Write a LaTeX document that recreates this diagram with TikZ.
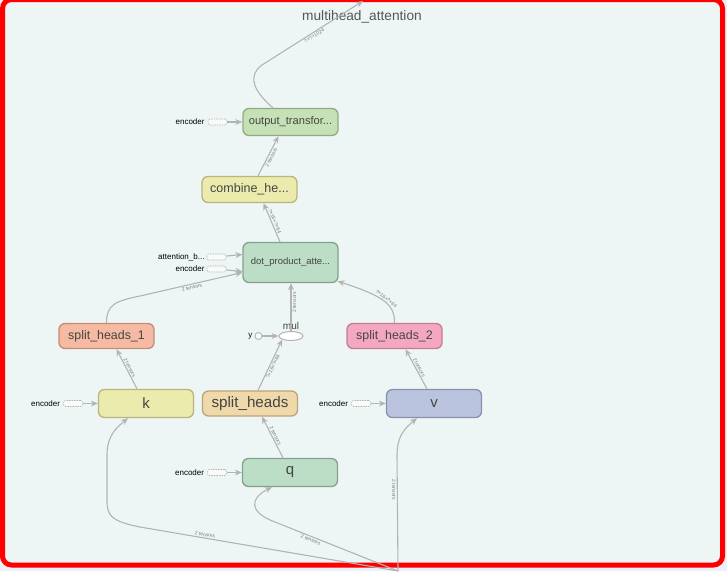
\documentclass[tikz,border=0pt]{standalone}
\usepackage{fontspec}
\setmainfont{Liberation Sans}
\setsansfont{Liberation Sans}
\usetikzlibrary{arrows.meta,positioning,shapes.geometric}
\definecolor{tbInk}{HTML}{454545}
\definecolor{tbTitle}{HTML}{555555}
\definecolor{tbEdge}{HTML}{B3B3B3}
\definecolor{tbTag}{HTML}{7A7A7A}
\definecolor{tbPanel}{HTML}{EEF6F5}
\definecolor{tbOuter}{HTML}{ECF0F7}
\definecolor{tbFrame}{HTML}{FF0000}
\definecolor{tbGreen}{HTML}{C6E1B5}
\definecolor{tbGreenLine}{HTML}{8FAC84}
\definecolor{tbMint}{HTML}{BCDDC6}
\definecolor{tbMintLine}{HTML}{83A28B}
\definecolor{tbYellow}{HTML}{EBEBAE}
\definecolor{tbYellowLine}{HTML}{B8B57E}
\definecolor{tbSalmon}{HTML}{F5BAA1}
\definecolor{tbSalmonLine}{HTML}{C38C78}
\definecolor{tbPink}{HTML}{F4A7C1}
\definecolor{tbPinkLine}{HTML}{C27B94}
\definecolor{tbTan}{HTML}{EFD8A9}
\definecolor{tbTanLine}{HTML}{BBA47B}
\definecolor{tbBlue}{HTML}{BAC4DE}
\definecolor{tbBlueLine}{HTML}{8891AB}
\tikzset{
  every picture/.style={font=\sffamily, text=tbInk},
  tb box/.style={rounded corners=6pt, line width=1.3pt, minimum width=95pt,
    inner sep=0pt, align=center},
  tb green/.style={tb box, fill=tbGreen, draw=tbGreenLine},
  tb mint/.style={tb box, fill=tbMint, draw=tbMintLine},
  tb yellow/.style={tb box, fill=tbYellow, draw=tbYellowLine},
  tb salmon/.style={tb box, fill=tbSalmon, draw=tbSalmonLine},
  tb pink/.style={tb box, fill=tbPink, draw=tbPinkLine},
  tb tan/.style={tb box, fill=tbTan, draw=tbTanLine},
  tb blue/.style={tb box, fill=tbBlue, draw=tbBlueLine},
  tb edge/.style={draw=tbEdge, line width=1.1pt,
    -{Stealth[length=7pt,width=6pt]}},
  tb tag/.style={font=\sffamily\fontsize{5}{5}\selectfont, text=tbTag,
    sloped, inner sep=1pt},
  tb stub/.style={draw=tbEdge, dash pattern=on 1.5pt off 1pt, fill=white!55!tbPanel,
    rounded corners=2pt, minimum width=19pt, minimum height=6pt,
    inner sep=0pt, line width=0.6pt},
  tb in/.style={font=\sffamily\fontsize{8}{8}\selectfont, text=black, inner sep=0pt}
}
\begin{document}
\begin{tikzpicture}[x=1pt,y=-1pt]
  \useasboundingbox (0,0) rectangle (727,571);
  \fill[tbOuter] (0,0) rectangle (727,571);
  \draw[draw=tbFrame, line width=5pt, rounded corners=9pt, fill=tbPanel]
    (2.5,-0.5) rectangle (722.5,565);
  \node[font=\sffamily\fontsize{13.7}{15}\selectfont, text=tbTitle] (title) at (362,17) {multihead\_attention};

  \node[tb green, minimum height=27pt, font=\sffamily\fontsize{11.1}{13}\selectfont] (otrans) at (290.5,122) {output\_transfor...};
  \node[tb yellow, minimum height=26pt, font=\sffamily\fontsize{12.5}{14}\selectfont] (combine) at (249.5,189.5) {combine\_he...};
  \node[tb mint, minimum height=40pt, font=\sffamily\fontsize{9.5}{11}\selectfont] (dpa) at (290.5,262.5) {dot\_product\_atte...};
  \node[tb salmon, minimum height=25pt, font=\sffamily\fontsize{12.4}{14}\selectfont] (sh1) at (106.5,336) {split\_heads\_1};
  \node[tb pink, minimum height=25pt, font=\sffamily\fontsize{12.4}{14}\selectfont] (sh2) at (394.5,336) {split\_heads\_2};
  \node[tb yellow, minimum height=28pt, font=\sffamily\fontsize{15}{16}\selectfont] (k) at (146,403.5) {k};
  \node[tb tan, minimum height=25pt, font=\sffamily\fontsize{15.2}{16}\selectfont] (sh) at (250,403.5) {split\_heads};
  \node[tb blue, minimum height=28pt, font=\sffamily\fontsize{15}{16}\selectfont] (v) at (434,403.5) {v};
  \node[tb mint, minimum height=28pt, font=\sffamily\fontsize{15}{16}\selectfont] (q) at (290,472.5) {q};

  \node[ellipse, draw=tbEdge, fill=white, line width=1pt, minimum width=24pt,
    minimum height=9pt, inner sep=0pt] (mul) at (291,336) {};
  \node[font=\sffamily\fontsize{10}{10}\selectfont, inner sep=0pt, above=1.5pt of mul] (mulname) {mul};
  \node[circle, draw=tbEdge, fill=white, line width=0.9pt, minimum size=7pt,
    inner sep=0pt] (ycirc) at (258.5,336) {};
  \node[tb in, left=2pt of ycirc] (yname) {y};
  \draw[tb edge] (ycirc) -- (mul);

  \foreach \tgt/\nm in {k/kin, q/qin, v/vin, otrans/oin} {
    \node[tb stub, left=15pt of \tgt] (\nm) {};
    \node[tb in, left=3pt of \nm] (\nm name) {encoder};
    \draw[tb edge] (\nm) -- (\tgt);
  }
  \node[tb stub] (abin) at (216.5,257) {};
  \node[tb in, left=2pt of abin] (abname) {attention\_b...};
  \node[tb stub] (ein) at (216.5,269) {};
  \node[tb in, left=2pt of ein] (einname) {encoder};
  \draw[tb edge] (abin) -- ([yshift=8pt]dpa.west);
  \draw[tb edge] (ein) -- ([yshift=-9pt]dpa.west);

  \coordinate (out) at (363,1);
  \coordinate (src) at (398,571);
  \draw[tb edge] ([xshift=-17.5pt]otrans.north) .. controls (252,90) and (248,75) .. (262,65)
    -- (out) node[tb tag, midway, below] {?×?×1024};
  \draw[tb edge] ([xshift=8.5pt]combine.north) -- ([xshift=-12pt]otrans.south)
    node[tb tag, midway, below] {2 tensors};
  \draw[tb edge] ([xshift=-10.5pt]dpa.north) -- ([xshift=14pt]combine.south)
    node[tb tag, midway, above] {?×16×?×64};
  \draw[tb edge] (sh1.north) .. controls (106.5,305) and (115,301) .. (140,296)
    -- ([yshift=-10pt]dpa.west) node[tb tag, midway, below] {2 tensors};
  \draw[tb edge] (mul.north) -- (mul.north |- dpa.south)
    node[tb tag, pos=0.6, below] {2 tensors};
  \draw[tb edge] ([xshift=8pt]sh.north) -- (mul.south west)
    node[tb tag, midway, below] {?×16×?×64};
  \draw[tb edge] (sh2.north) .. controls (394.5,305) and (386,297) .. ([xshift=-1pt,yshift=2pt]dpa.south east)
    node[tb tag, midway, above] {?×16×?×64};
  \draw[tb edge] ([xshift=-9pt]k.north) -- ([xshift=10pt]sh1.south)
    node[tb tag, midway, above] {2 tensors};
  \draw[tb edge] ([xshift=-7pt]q.north) -- ([xshift=12pt]sh.south)
    node[tb tag, midway, above] {2 tensors};
  \draw[tb edge] ([xshift=-7pt]v.north) -- ([xshift=11pt]sh2.south)
    node[tb tag, midway, above] {2 tensors};
  \draw[tb edge] (src) -- (140,527) node[tb tag, pos=0.75, above] {2 tensors}
    .. controls (110,521) and (107,515) .. (107,500) -- (107,455)
    .. controls (107,436) and (116,428) .. ([xshift=-18pt]k.south);
  \draw[tb edge] (src) -- (275,522) node[tb tag, pos=0.7, below] {2 tensors}
    .. controls (248,512) and (250,498) .. ([xshift=-18pt]q.south);
  \draw[tb edge] (src) -- (397,455) node[tb tag, pos=0.7, below] {2 tensors}
    .. controls (397,436) and (405,428) .. ([xshift=-17pt]v.south);
\end{tikzpicture}
\end{document}
